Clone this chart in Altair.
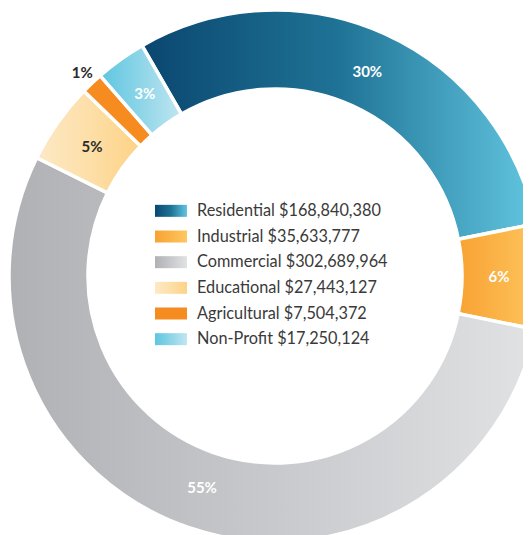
import math
import altair as alt
import pandas as pd

categories = ["Residential", "Industrial", "Commercial", "Educational", "Agricultural", "Non-Profit"]
values = [168840380, 35633777, 302689964, 27443127, 7504372, 17250124]
pct_labels = ["30%", "6%", "55%", "5%", "1%", "3%"]

grad_left = ["#0a4670", "#f8a233", "#b0b1b5", "#fde9c6", "#f68b1f", "#5ec6e0"]
grad_mid = ["#1f7396", "#fbb448", "#c8c9cc", "#fddfa8", "#f68b1f", "#8ed5e8"]
grad_right = ["#62c6e0", "#fec760", "#e1e2e4", "#fdd286", "#f68b1f", "#c0e6f1"]
text_colors = ["white", "white", "white", "#2b2b2b", "#2b2b2b", "white"]

df = pd.DataFrame({
    "category": categories,
    "value": values,
    "pct": pct_labels,
    "order": list(range(len(categories))),
})
df["legend"] = [f"{c} ${v:,}" for c, v in zip(categories, values)]
total = float(sum(values))

CX, CY = 267, 268
R_OUT, R_IN = 266, 187
START = math.radians(-30)
theta_scale = alt.Scale(domain=[0, total], range=[START, START + 2 * math.pi], nice=False, zero=True)
FONT = "Lato"

base = alt.Chart(df).transform_window(
    cum="sum(value)", sort=[alt.SortField("order")], frame=[None, 0]
).transform_calculate(
    start="datum.cum - datum.value", mid="datum.cum - datum.value / 2"
)


def grad(i):
    return alt.LinearGradient(
        gradient="linear",
        x1=0, y1=0, x2=1, y2=0,
        stops=[
            alt.GradientStop(offset=0, color=grad_left[i]),
            alt.GradientStop(offset=0.5, color=grad_mid[i]),
            alt.GradientStop(offset=1, color=grad_right[i]),
        ],
    )


layers = []
for i, cat in enumerate(categories):
    arc = base.transform_filter(alt.datum.category == cat).mark_arc(
        fill=grad(i), stroke="white", strokeWidth=3.5,
        outerRadius=R_OUT, innerRadius=R_IN,
    ).encode(
        theta=alt.Theta("start:Q", scale=theta_scale, stack=None),
        theta2="cum:Q",
        x=alt.value(CX), y=alt.value(CY),
    )
    layers.append(arc)

for i, cat in enumerate(categories):
    r = 280 if cat == "Agricultural" else 224
    txt = base.transform_filter(alt.datum.category == cat).mark_text(
        font=FONT, fontSize=15, fontWeight="bold", color=text_colors[i],
        align="center", baseline="middle",
    ).encode(
        theta=alt.Theta("mid:Q", scale=theta_scale, stack=None),
        radius=alt.value(r),
        x=alt.value(CX), y=alt.value(CY),
        text="pct:N",
    )
    layers.append(txt)

legend_y = alt.Y("category:N", scale=alt.Scale(domain=categories, range=[190, 344], paddingInner=0, paddingOuter=0), axis=None)
for i, cat in enumerate(categories):
    sw = alt.Chart(df).transform_filter(alt.datum.category == cat).mark_bar(
        fill=grad(i), height=12
    ).encode(
        y=legend_y,
        x=alt.value(147), x2=alt.value(179),
    )
    layers.append(sw)

leg_text = alt.Chart(df).mark_text(
    font=FONT, fontSize=16.3, color="#3a3a3a", align="left", baseline="middle"
).encode(
    y=legend_y,
    x=alt.value(189),
    text="legend:N",
)
layers.append(leg_text)

chart = alt.layer(*layers).resolve_scale(theta="shared").properties(
    width=515, height=527, padding=0, autosize="none"
).configure_view(stroke=None)

chart.save("out.html", embed_options={"renderer": "svg", "actions": False})
